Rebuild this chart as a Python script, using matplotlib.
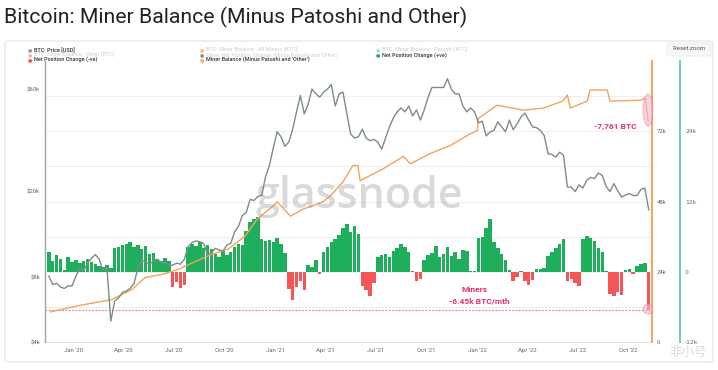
import matplotlib
matplotlib.use("Agg")
import matplotlib.pyplot as plt
import matplotlib.dates as mdates
from matplotlib.patches import Ellipse, FancyBboxPatch
from matplotlib.ticker import FixedLocator, FuncFormatter, NullFormatter
import pandas as pd

# ── data ────────────────────────────────────────────────────────────
week_start = "2019-11-18"   # weekly points, Mondays

# BTC price [USD], weekly
price = [
    8100, 7400, 7500, 7200, 7100, 7300, 7300,
    # 2020
    8100, 8800, 8600, 9300, 9800, 10200, 9700, 8600,
    8900, 5000, 6200, 6400, 6800, 6900, 7100, 7500, 8800,
    9600, 9400, 9200, 9500, 9700, 9400, 9300, 9100, 9100,
    9300, 9200, 9700, 11100, 11600, 11800, 11700, 11500, 10200,
    10400, 10900, 10700, 10600, 11300, 11500, 13000, 13800,
    15500, 16000, 18400, 18200, 19000, 19200, 23500, 26500, 32000,
    # 2021
    38000, 36000, 32500, 34000, 39000, 47000, 56000, 46000,
    51000, 60000, 57000, 55000, 58000, 60000, 63000, 50000, 57000,
    58000, 46000, 37000, 35500, 36000, 39000, 35500, 34500, 35000,
    34000, 31500, 35500, 39900, 44000, 47000, 49000, 47000, 50000,
    45000, 48000, 43000, 48000, 55000, 61000, 61000, 61000,
    61000, 67000, 60000, 57000, 57000, 50000, 47000, 49000, 47000,
    # 2022
    41800, 42500, 36300, 37900, 38500, 42200, 40000, 38000, 43000,
    38800, 41300, 44500, 46400, 43000, 40000, 39700, 38500,
    36500, 30000, 29800, 29000, 30500, 29500, 21000, 21000, 20000,
    21500, 20800, 22600, 23300, 23000, 24400, 23800, 21200, 20000,
    21800, 20200, 18900, 19300, 19600, 19200, 19200, 20500, 20800,
    16500,
]

# Miner net position change (minus Patoshi and 'Other') [BTC/mth], weekly
net_change = [
    3300, 1800, 2800, 2200, 300, 2600,
    1600, 2000, 1500, 1800, 2100, 1700, 1400,
    1000, 800, 1200, 700,
    4000, 4300, 4500, 4800, 5000, 4200, 4600, 3900, 4400,
    3000, 3200, 2200, 1900, 2400, 1800,
    -2600, -1800, -2800, -2200,
    4200, 4800, 4400, 5000, 4100, 4600, 3900,
    3000, 2500, 3600, 2800, 3400, 4200, 4800, 4500,
    7000, 8500, 9000, 9300, 5600, 5200, 5500, 5000, 5800, 4800, 3200,
    -3000, -4800, -2600, -1500, -3200,
    1200, 800, 2000, -300,
    3300, 4200, 5000, 5600, 6200, 7500, 8200, 6800, 7900, 6500,
    -2500, -3200, -4200, -2000,
    2600, 2800, 3000, 2500, 3500, 4000, 4700, 4200, 3400, 200,
    -1600, -1200,
    2000, 2800, 3200, 4400, 2500, 3000, 4300, 2700, 3300, 2200,
    3800, 3500, 200, 100,
    5800, 6000, 7500, 9000, 5000, 4000, 3000, 2000, 300,
    -1500, -900, 200, -1600, -2200, -1400,
    500, 400, 700, 2700, 3300, 4000, 4800, 5600,
    -1600, -1300, -2000, -2500,
    5600, 6100, 5800, 5200, 4000, 3300, 100,
    -3800, -4200, -3500, -4000,
    300, 500, -300, 1000, 1300, 1500, -6450,
]

# Miner balance (minus Patoshi and 'Other') [BTC]
balance_dates = [
    "2019-11-21", "2020-01-10", "2020-03-11", "2020-04-16", "2020-05-10",
    "2020-06-10", "2020-07-09", "2020-08-09", "2020-09-08", "2020-10-07",
    "2020-11-07", "2020-11-29", "2020-12-28", "2021-01-04", "2021-01-28",
    "2021-02-20", "2021-03-28", "2021-04-10", "2021-05-03", "2021-05-21",
    "2021-05-30", "2021-06-03", "2021-07-15", "2021-08-20", "2021-09-02",
    "2021-10-08", "2021-11-13", "2021-12-14", "2022-01-01", "2022-01-03",
    "2022-02-06", "2022-03-25", "2022-04-30", "2022-06-05", "2022-06-13",
    "2022-06-18", "2022-07-19", "2022-07-24", "2022-08-24", "2022-08-29",
    "2022-10-23", "2022-11-01", "2022-11-06",
]
balance = [
    10300, 12400, 14500, 17900, 22000,
    23100, 24800, 27500, 30000, 31700,
    36200, 42000, 46500, 47900, 43000,
    45400, 47900, 49900, 54700, 60300,
    60300, 55100, 59200, 63400, 60900,
    64400, 67100, 70600, 72300, 76400,
    80900, 79200, 79900, 82300, 84400,
    79900, 82300, 86100, 86100, 82300,
    82600, 83300, 75500,
]

monthly_rate_line = -6450
drop_label = "-7,761 BTC"

# ── colours ─────────────────────────────────────────────────────────
C_PRICE = "#7d8b8c"
C_BAL = "#f5a35a"
C_GREEN = "#1fae5b"
C_RED = "#f45656"
C_TEAL = "#62c9a4"
C_PINK = "#e5306f"
C_TICK = "#666666"
FONT = "Roboto"

weeks = pd.date_range(week_start, periods=len(net_change), freq="7D")
bal_x = pd.to_datetime(balance_dates)

fig = plt.figure(figsize=(7.18, 3.70), dpi=100)
fig.patch.set_facecolor("white")

W, H = 718.0, 370.0
def fx(px):
    return px / W
def fy(py):
    return 1 - py / H

# card frame
fig.add_artist(FancyBboxPatch((fx(5), fy(362)), fx(708), 321 / H,
               boxstyle="round,pad=0,rounding_size=0.006", fc="white",
               ec="#e4e4e4", lw=0.8, transform=fig.transFigure, zorder=0))

fig.text(fx(4), fy(17), "Bitcoin: Miner Balance (Minus Patoshi and Other)",
         fontsize=15.3, family=FONT, color="#222222", va="center", ha="left")

# axes
L, R, T, B = 45, 652, 61, 342
ax_bar = fig.add_axes([fx(L), fy(B), (R - L) / W, (B - T) / H])
ax_bal = ax_bar.twinx()
ax_px = ax_bar.twinx()

# net position bars
colors = [C_GREEN if v >= 0 else C_RED for v in net_change]
ax_bar.bar(weeks, net_change, width=6.3, color=colors, lw=0, zorder=2)
for g in range(-6000, 36000, 6000):
    ax_bar.axhline(g, color="#ececec", lw=0.6, zorder=0)
ax_bar.axhline(monthly_rate_line, color=C_PINK, lw=0.8, ls=(0, (1.5, 1.5)),
               alpha=0.7, zorder=3)
ax_bar.set_ylim(-12000, 36000)
ax_bar.set_xlim(pd.Timestamp("2019-11-11"), pd.Timestamp("2022-11-13"))

# balance line
ax_bal.plot(bal_x, balance, color=C_BAL, lw=1.0, zorder=3)
ax_bal.set_ylim(0, 96000)

# price line
ax_px.plot(weeks, price, color=C_PRICE, lw=1.0, zorder=4)
ax_px.set_yscale("log")
ax_px.set_ylim(4000, 81000)

# ── axis styling ────────────────────────────────────────────────────
for a in (ax_bar, ax_bal, ax_px):
    for s in a.spines.values():
        s.set_visible(False)
    a.tick_params(length=0, labelsize=4.3, labelcolor=C_TICK)
    for lab in a.get_yticklabels() + a.get_xticklabels():
        lab.set_family(FONT)

ax_bar.patch.set_facecolor("white")

# bars axis: teal, outer right
ax_bar.yaxis.tick_right()
ax_bar.spines["right"].set_visible(True)
ax_bar.spines["right"].set_position(("outward", 20.2))
ax_bar.spines["right"].set_color(C_TEAL)
ax_bar.spines["right"].set_linewidth(1.3)
ax_bar.yaxis.set_major_locator(FixedLocator([-12000, 0, 12000, 24000]))
ax_bar.yaxis.set_major_formatter(FuncFormatter(
    lambda v, p: "0" if v == 0 else f"{v / 1000:.0f}k"))
ax_bar.tick_params(axis="y", pad=3.6)
ax_bar.spines["bottom"].set_visible(True)
ax_bar.spines["bottom"].set_color("#dddddd")
ax_bar.spines["bottom"].set_linewidth(0.6)

ax_bar.xaxis.set_major_locator(mdates.MonthLocator(bymonth=[1, 4, 7, 10]))
ax_bar.xaxis.set_major_formatter(mdates.DateFormatter("%b '%y"))
ax_bar.tick_params(axis="x", pad=4.5)
for lab in ax_bar.get_xticklabels():
    lab.set_family(FONT)

# balance axis: orange, inner right
ax_bal.spines["right"].set_visible(True)
ax_bal.spines["right"].set_color(C_BAL)
ax_bal.spines["right"].set_linewidth(1.4)
ax_bal.yaxis.set_major_locator(FixedLocator([0, 24000, 48000, 72000]))
ax_bal.yaxis.set_major_formatter(FuncFormatter(
    lambda v, p: "0" if v == 0 else f"{v / 1000:.0f}k"))
ax_bal.tick_params(axis="y", pad=3.6)

# price axis: left, log
ax_px.yaxis.tick_left()
ax_px.spines["left"].set_visible(True)
ax_px.spines["left"].set_color("#9aa5a6")
ax_px.spines["left"].set_linewidth(1.0)
ax_px.yaxis.set_major_locator(FixedLocator([4000, 8000, 20000, 60000]))
ax_px.yaxis.set_major_formatter(FuncFormatter(lambda v, p: f"${v / 1000:.0f}k"))
ax_px.yaxis.set_minor_formatter(NullFormatter())
ax_px.tick_params(axis="y", which="both", length=0, pad=3.6)
for lab in ax_px.get_yticklabels():
    lab.set_family(FONT)

# ── annotations ─────────────────────────────────────────────────────
fig.text(fx(615), fy(126), drop_label, fontsize=6, family=FONT,
         fontweight="bold", color=C_PINK, ha="center", va="center")
fig.text(fx(474), fy(290), "Miners", fontsize=6, family=FONT,
         fontweight="bold", color=C_PINK, ha="center", va="center")
fig.text(fx(479), fy(301), "-6.45k BTC/mth", fontsize=6, family=FONT,
         fontweight="bold", color=C_PINK, ha="center", va="center")

fig.add_artist(Ellipse((648 / 100, (H - 110) / 100), 0.10, 0.32,
               transform=fig.dpi_scale_trans, fc="#f7b9cd", alpha=0.6,
               ec=C_PINK, lw=0.7, ls=(0, (1, 1)), zorder=5))
fig.add_artist(Ellipse((648 / 100, (H - 309) / 100), 0.10, 0.10,
               transform=fig.dpi_scale_trans, fc="#f7b9cd", alpha=0.6,
               ec=C_PINK, lw=0.7, ls=(0, (1, 1)), zorder=5))

# watermark
fig.text(fx(359), fy(208), "glassnode", fontsize=31, family="Open Sans",
         fontweight="semibold", color="#8a8a8a", alpha=0.32, ha="center",
         va="baseline", zorder=6)

# ── legend ──────────────────────────────────────────────────────────
legend_items = [
    (30, 50.0, "#8e9c9d", "BTC: Price [USD]", True),
    (30, 54.8, "#f47a7a", "BTC: Miner Balance - Other [BTC]", False),
    (30, 59.6, "#f05050", "Net Position Change (-ve)", True),
    (202, 50.0, "#f7931a", "BTC: Miner Balance - All Miners [BTC]", False),
    (202, 54.8, "#4a4a4a",
     "Miner Net Position Change (Minus Patoshi and 'Other')", False),
    (202, 59.6, "#f5b06a", "Miner Balance (Minus Patoshi and 'Other')", True),
    (378, 50.0, "#5fcfb0", "BTC: Miner Balance - Patoshi [BTC]", False),
    (378, 54.8, C_GREEN, "Net Position Change (+ve)", True),
]
for x, y, c, lb, on in legend_items:
    fig.text(fx(x), fy(y), "\u25cf", fontsize=3.6, color=c, ha="center",
             va="center", alpha=1 if on else 0.6)
    fig.text(fx(x + 4), fy(y), lb, fontsize=4.0, family=FONT,
             color="#333333" if on else "#cfcfcf", ha="left", va="center",
             fontweight="medium" if on else "normal")

# reset zoom button
fig.add_artist(FancyBboxPatch((fx(667), fy(56)), fx(44), 13 / H,
               boxstyle="round,pad=0,rounding_size=0.004", fc="#f7f7f7",
               ec="#e6e6e6", lw=0.5, transform=fig.transFigure))
fig.text(fx(689), fy(49), "Reset zoom", fontsize=4.4, family=FONT,
         color="#555555", ha="center", va="center")

# corner watermark
fig.text(fx(688), fy(352), "非小号", fontsize=9,
         family=["Noto Sans CJK SC", "DejaVu Sans"], color="#d9d9d9",
         ha="center", va="center", zorder=7)

fig.savefig("out.png", dpi=100, facecolor="white")
